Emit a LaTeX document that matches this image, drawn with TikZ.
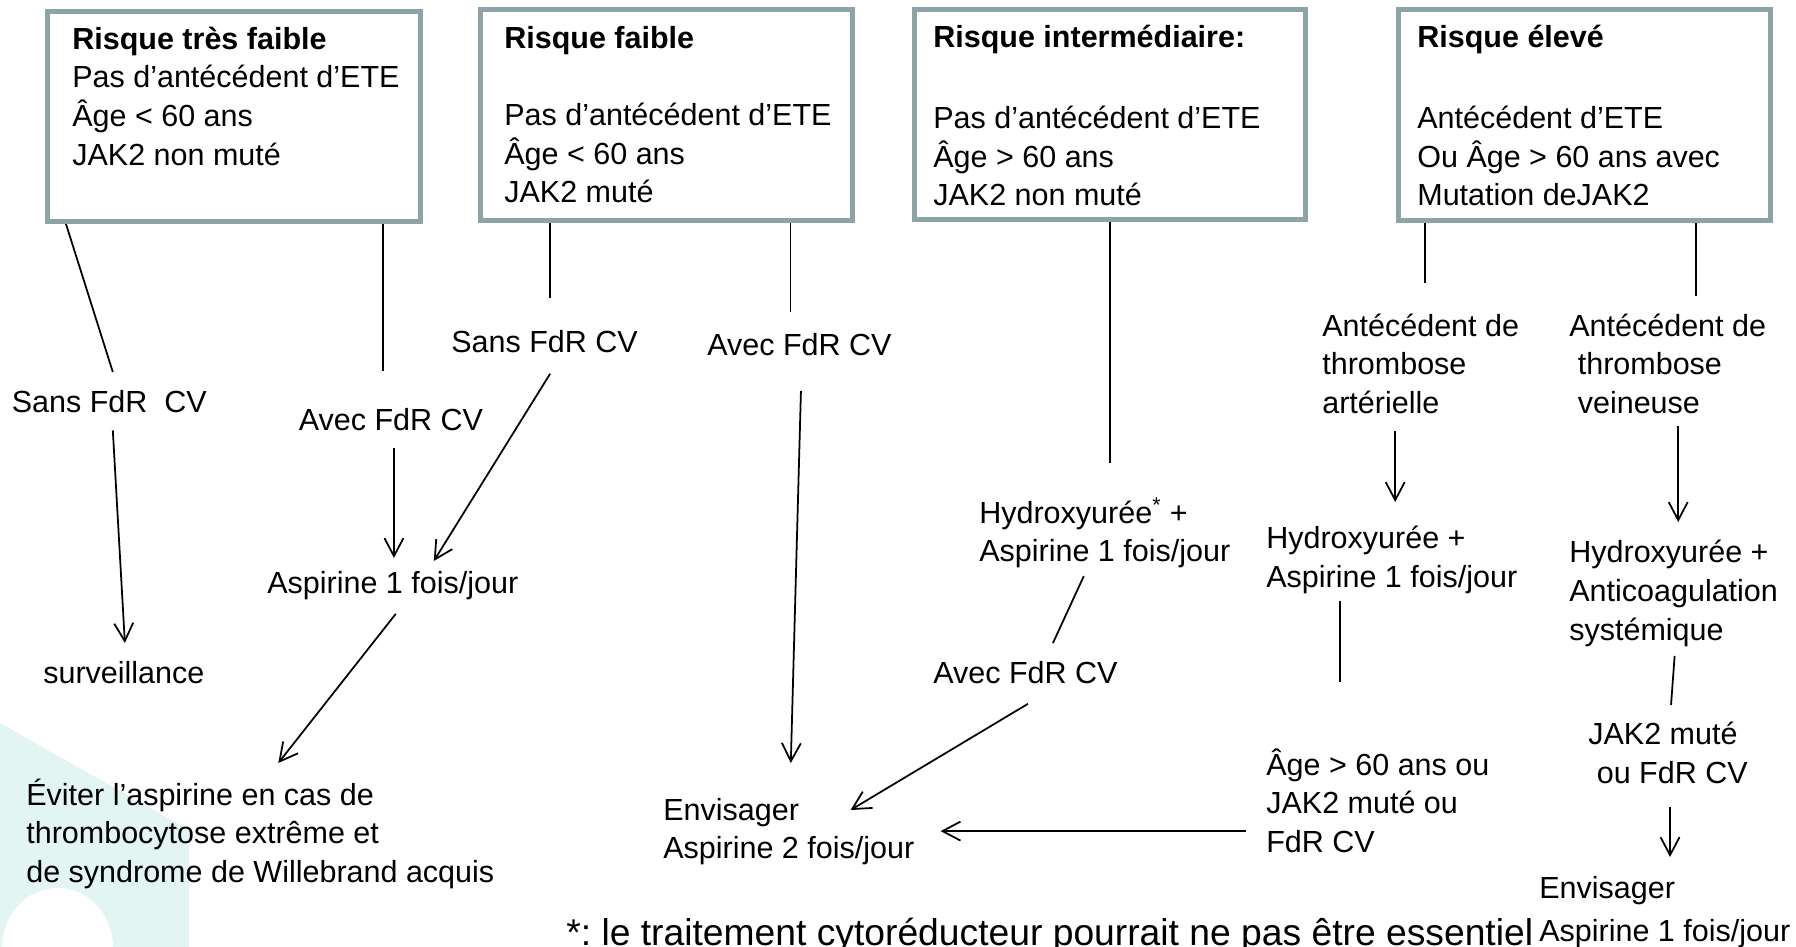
\documentclass[tikz,border=0pt]{standalone}
\usepackage{fontspec}
\setmainfont{Liberation Sans}
\usetikzlibrary{positioning,arrows.meta,calc}

\newdimen\px \px=0.02cm
\definecolor{edgegrey}{RGB}{140,164,168}
\definecolor{softteal}{RGB}{226,245,242}
\newcommand{\diagfont}{\fontsize{17.36pt}{21.97pt}\selectfont}
\newcommand{\notefont}{\fontsize{21.2pt}{26pt}\selectfont}
\newcommand{\lnstrut}{\rule[-11.58\px]{0pt}{38.6\px}}

\begin{document}
\begin{tikzpicture}[
  x=0.02cm,y=-0.02cm,
  font=\diagfont,
  riskbox/.style={rectangle,draw=edgegrey,line width=5\px,fill=white,
                  anchor=north west,inner sep=0pt},
  lbl/.style={anchor=north west,inner sep=0pt,align=left,
              execute at begin node=\lnstrut,execute at end node=\lnstrut},
  link/.style={line width=1pt,black},
  arr/.style={link,-{Straight Barb[length=3.6mm,width=3.8mm]}},
]
\useasboundingbox (0,0) rectangle (1796,947);
\clip (0,0) rectangle (1796,947);
\fill[white] (0,0) rectangle (1796,947);
% ---------- decor ----------
\fill[softteal] (0,723) -- (189,830) -- (189,947) -- (0,947) -- cycle;
\fill[white] (57.5,947) ellipse [x radius=55.5,y radius=59];

% ---------- Risque tres faible ----------
\node[riskbox,minimum width=373\px,minimum height=210\px] (tf) at (45,9) {};
\node[lbl] (tft) at (72,26.5)
  {\textbf{Risque très faible}\\Pas d’antécédent d’ETE\\Âge < 60 ans\\JAK2 non muté};
\node[lbl] (sfa) at (11.5,385) {Sans FdR~~CV};
\node[lbl] (afa) at (298.5,403) {Avec FdR CV};
\node[lbl] (surv) at (43,656) {surveillance};
\node[lbl] (asp) at (267,566) {Aspirine 1 fois/jour};
\node[lbl] (evit) at (26,778.3)
  {Éviter l’aspirine en cas de\\thrombocytose extrême et\\de syndrome de Willebrand acquis};
\draw[link] ($(tf.south west)+(21,0)$) -- ($(sfa.north)+(3.5,-13)$);
\draw[link] ($(afa.north |- tf.south)+(-8,0)$) -- ($(afa.north)+(-8,-32)$);
\draw[arr] ($(sfa.south)+(3.5,6)$) -- ($(surv.north)+(1,-13)$);
\draw[arr] ($(afa.south)+(3,6)$) -- ($(afa.south |- asp.north)+(3,-8)$);
\draw[arr] ($(asp.south)+(3,8.5)$) -- ($(evit.north)+(18,-15.3)$);

% ---------- Risque faible ----------
\node[riskbox,minimum width=372\px,minimum height=211\px] (fa) at (478,7) {};
\node[lbl] (fat) at (504,26)
  {\textbf{Risque faible}\\[\baselineskip]Pas d’antécédent d’ETE\\Âge < 60 ans\\JAK2 muté};
\node[lbl] (sfb) at (451,325) {Sans FdR CV};
\node[lbl] (afb) at (707,328) {Avec FdR CV};
\node[lbl] (envb) at (663,797.6) {Envisager\\Aspirine 2 fois/jour};
\draw[link] ($(sfb.north |- fa.south)+(5.5,0)$) -- ($(sfb.north)+(5.5,-27)$);
\draw[link] ($(afb.north |- fa.south)+(-9,0)$) -- ($(afb.north)+(-9,-16)$);
\draw[arr] ($(sfb.south)+(5.5,9.5)$) -- ($(asp.north)+(41,-5)$);
\draw[arr] ($(afb.south)+(1.5,23.5)$) -- ($(envb.north)+(2,-34.6)$);

% ---------- Risque intermediaire ----------
\node[riskbox,minimum width=391\px,minimum height=210\px] (ri) at (912,7) {};
\node[lbl] (rit) at (933,25)
  {\textbf{Risque intermédiaire:}\\[\dimexpr\baselineskip+3.5\px\relax]Pas d’antécédent d’ETE\\Âge > 60 ans\\JAK2 non muté};
\node[lbl] (hyi) at (979,497) {Hydroxyurée\textsuperscript{*} +\\Aspirine 1 fois/jour};
\node[lbl] (afi) at (933,656) {Avec FdR CV};
\draw[link] (ri.south) -- ($(ri.south |- hyi.north)+(0,-34)$);
\draw[link] ($(hyi.south)+(-21,2.5)$) -- ($(afi.north)+(27.5,-13)$);
\draw[arr] ($(afi.south)+(2.5,8.5)$) -- ($(envb.north east)+(-64,12.4)$);

% ---------- Risque eleve ----------
\node[riskbox,minimum width=372\px,minimum height=211\px] (re) at (1396,7) {};
\node[lbl] (ret) at (1417,25)
  {\textbf{Risque élevé}\\[\dimexpr\baselineskip+3.5\px\relax]Antécédent d’ETE\\Ou Âge > 60 ans avec\\Mutation deJAK2};
\node[lbl] (ata) at (1322,313.5) {Antécédent de\\thrombose\\artérielle};
\node[lbl] (atv) at (1569,313.5) {Antécédent de\\\ thrombose\\\ veineuse};
\node[lbl] (hya) at (1266,526) {Hydroxyurée +\\Aspirine 1 fois/jour};
\node[lbl] (hyv) at (1569,540) {Hydroxyurée +\\Anticoagulation\\systémique};
\node[lbl] (age) at (1266,748) {Âge > 60 ans ou\\JAK2 muté ou\\FdR CV};
\node[lbl] (jak) at (1588,722) {JAK2 muté\\\ ou FdR CV};
\node[lbl] (enva) at (1539,875.6) {Envisager\\[2.75pt]Aspirine 1 fois/jour};
\draw[link] ($(ata.north |- re.south)+(4.5,0)$) -- ($(ata.north)+(4.5,-30.5)$);
\draw[link] ($(atv.north |- re.south)+(28.5,0)$) -- ($(atv.north)+(28.5,-17.5)$);
\draw[arr] ($(ata.south)+(-25.5,6)$) -- ($(ata.south |- hya.north)+(-25.5,-24)$);
\draw[arr] ($(atv.south)+(10.5,1)$) -- ($(atv.south |- hyv.north)+(10.5,-18)$);
\draw[link] ($(hya.south)+(-51.5,1.5)$) -- ($(hya.south |- age.north)+(-51.5,-66)$);
\draw[arr] ($(age.west |- envb.east)+(-20,-3)$) -- ($(envb.east)+(26,-3)$);
\draw[link] ($(hyv.south)+(1,4)$) -- ($(jak.north)+(3,-17)$);
\draw[arr] ($(jak.south)+(2,11.5)$) -- ($(jak.south |- enva.north)+(2,-18.6)$);

\node[lbl,font=\notefont] (note) at (566,918)
  {*:\ le traitement cytoréducteur pourrait ne pas être essentiel};
\end{tikzpicture}
\end{document}
